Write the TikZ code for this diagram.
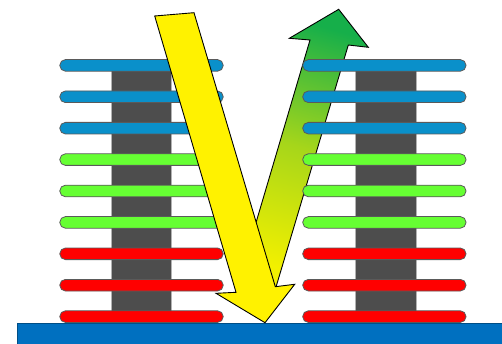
\documentclass[tikz,border=0pt]{standalone}
\begin{document}
\begin{tikzpicture}[x=1pt,y=-1pt,
  column/.style={fill=colgray,draw=gray!60,line width=0.4pt},
  barshape/.style={draw=bargray,line width=0.8pt,rounded corners=5.6pt},
  arrowshape/.style={draw=black,line width=0.9pt,line join=miter}]
\definecolor{colgray}{HTML}{4D4D4D}
\definecolor{bargray}{HTML}{5A5A5A}
\definecolor{barblue}{HTML}{0A90CA}
\definecolor{bargreen}{HTML}{66FF33}
\definecolor{barred}{HTML}{FF0000}
\definecolor{baseblue}{HTML}{0070C0}
\definecolor{arrgreen}{HTML}{16AF4A}
\definecolor{arrmid}{HTML}{A6D61A}
\definecolor{arryellow}{HTML}{F2F000}
\useasboundingbox (0,0) rectangle (502,344);
% base
\fill[baseblue,draw=baseblue!70!black,line width=0.6pt] (17.3,323.7) rectangle (504,346);
% columns
\draw[column] (110.7,62) rectangle (171,318);
\draw[column] (355,62) rectangle (416,318);
% left bars
\foreach \c [count=\i from 0] in {barblue,barblue,barblue,bargreen,bargreen,bargreen,barred,barred,barred}{
  \pgfmathsetmacro{\yc}{65.4+31.4*\i}
  \draw[barshape,fill=\c] (59.8,\yc-5.8) rectangle (223.2,\yc+5.8);
}
% upward arrow (behind right bars and yellow arrow)
\draw[arrowshape,top color=arrgreen,bottom color=arryellow,middle color=arrmid,shading angle=-16]
  (240.1,276.4) -- (310,40) -- (289.3,38.3) -- (338.7,9.3) -- (368.3,47.3) -- (348.3,45) -- (276,287) -- cycle;
% right bars
\foreach \c [count=\i from 0] in {barblue,barblue,barblue,bargreen,bargreen,bargreen,barred,barred,barred}{
  \pgfmathsetmacro{\yc}{65.4+31.4*\i}
  \draw[barshape,fill=\c] (302.7,\yc-5.8) rectangle (466,\yc+5.8);
}
% downward yellow arrow
\draw[arrowshape,fill=yellow]
  (154.7,16) -- (194,12.7) -- (275.3,286.7) -- (294.7,284.3) -- (265,322.7) -- (216,293.3) -- (236,292.3) -- cycle;
\end{tikzpicture}
\end{document}
